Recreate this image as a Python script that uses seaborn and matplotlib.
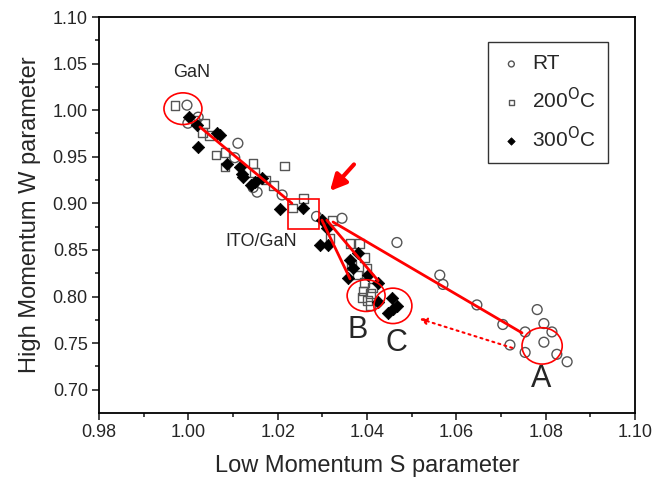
import numpy as np
import pandas as pd
import matplotlib
matplotlib.use('Agg')
import matplotlib.pyplot as plt
from matplotlib.patches import Ellipse, Rectangle
import seaborn as sns

# S and W parameters
rt_s = [0.9997, 1.0022, 0.9999, 1.0111, 1.0104, 1.0145, 1.0154, 1.0210, 1.0287,
        1.0344, 1.0467, 1.0563, 1.0570, 1.0646, 1.0704, 1.0720, 1.0754, 1.0781,
        1.0796, 1.0814, 1.0796, 1.0754, 1.0825, 1.0848]
rt_w = [1.0054, 0.9925, 0.9860, 0.9645, 0.9490, 0.9170, 0.9120, 0.9090, 0.8860,
        0.8840, 0.8580, 0.8230, 0.8130, 0.7910, 0.7700, 0.7480, 0.7620, 0.7860,
        0.7710, 0.7620, 0.7510, 0.7400, 0.7380, 0.7300]

s200_s = [0.9970, 1.0037, 1.0015, 1.0031, 1.0048, 1.0062, 1.0082, 1.0082, 1.0145,
          1.0149, 1.0172, 1.0190, 1.0216, 1.0234, 1.0257, 1.0322, 1.0317, 1.0362,
          1.0384, 1.0395, 1.0366, 1.0400, 1.0378, 1.0395, 1.0413, 1.0391, 1.0407,
          1.0389, 1.0402, 1.0407]
s200_w = [1.0054, 0.9860, 0.9890, 0.9760, 0.9730, 0.9520, 0.9550, 0.9390, 0.9430,
          0.9330, 0.9250, 0.9190, 0.9400, 0.8950, 0.9050, 0.8820, 0.8620, 0.8570,
          0.8570, 0.8420, 0.8330, 0.8300, 0.8230, 0.8150, 0.8100, 0.8060, 0.8030,
          0.7990, 0.7960, 0.7900]

s300_s = [1.0001, 1.0019, 1.0064, 1.0071, 1.0022, 1.0087, 1.0116, 1.0120, 1.0122,
          1.0149, 1.0165, 1.0140, 1.0205, 1.0257, 1.0299, 1.0310, 1.0295, 1.0313,
          1.0380, 1.0362, 1.0369, 1.0357, 1.0402, 1.0425, 1.0425, 1.0456, 1.0467,
          1.0458, 1.0447]
s300_w = [0.9925, 0.9840, 0.9760, 0.9730, 0.9610, 0.9420, 0.9390, 0.9320, 0.9280,
          0.9230, 0.9270, 0.9200, 0.8940, 0.8950, 0.8820, 0.8740, 0.8550, 0.8550,
          0.8470, 0.8390, 0.8310, 0.8200, 0.8230, 0.8150, 0.7940, 0.7980, 0.7900,
          0.7870, 0.7820]

# red guide lines (start s, start w, end s, end w)
guide_lines = [(1.0026, 0.982, 1.0232, 0.900),
               (1.0299, 0.882, 1.0362, 0.819),
               (1.0310, 0.882, 1.0425, 0.817),
               (1.0324, 0.880, 1.0747, 0.761)]
# circled regions (centre s, centre w, width, height)
rings = [(0.9988, 1.0016, 0.0085, 0.034),
         (1.0398, 0.8010, 0.0085, 0.034),
         (1.0458, 0.7900, 0.0085, 0.038),
         (1.0792, 0.7470, 0.0090, 0.039)]
labels = [('GaN', 1.0008, 1.0405, 13), ('ITO/GaN', 1.0163, 0.8590, 13),
          ('B', 1.0378, 0.7640, 22), ('C', 1.0467, 0.7500, 22), ('A', 1.0789, 0.7120, 22)]

df = pd.concat([
    pd.DataFrame({'S': rt_s, 'W': rt_w, 'T': 'RT'}),
    pd.DataFrame({'S': s200_s, 'W': s200_w, 'T': '200'}),
    pd.DataFrame({'S': s300_s, 'W': s300_w, 'T': '300'}),
])

sns.set_style('ticks')
plt.rcParams['font.family'] = ['Liberation Sans', 'DejaVu Sans']

fig = plt.figure(figsize=(6.55, 4.86), dpi=100)
ax = fig.add_axes([0.1511, 0.1502, 0.8184, 0.8148])

sns.scatterplot(data=df[df['T'] == 'RT'], x='S', y='W', marker='o', s=50,
                facecolor='none', edgecolor='#555555', linewidth=1.0, label='RT', ax=ax)
sns.scatterplot(data=df[df['T'] == '200'], x='S', y='W', marker='s', s=40,
                facecolor='none', edgecolor='#555555', linewidth=1.0,
                label='200$^{\\mathrm{O}}$C', ax=ax)
sns.scatterplot(data=df[df['T'] == '300'], x='S', y='W', marker='D', s=40,
                color='black', edgecolor='black', linewidth=0.5,
                label='300$^{\\mathrm{O}}$C', ax=ax)

# red annotations
for x0, y0, x1, y1 in guide_lines:
    ax.plot([x0, x1], [y0, y1], color='red', lw=2)
for cx, cy, w, h in rings:
    ax.add_patch(Ellipse((cx, cy), w, h, fill=False, ec='red', lw=1.2))
ax.add_patch(Rectangle((1.0223, 0.872), 0.0069, 0.033, fill=False, ec='red', lw=1.2))
ax.annotate('', xy=(1.0313, 0.911), xytext=(1.0375, 0.944),
            arrowprops=dict(arrowstyle='-|>', color='red', lw=3, mutation_scale=24))
ax.annotate('', xy=(1.0512, 0.777), xytext=(1.0731, 0.744),
            arrowprops=dict(arrowstyle='-|>', color='red', lw=1.5, ls=(0, (1, 2)),
                            mutation_scale=10))
for txt, x, y, fs in labels:
    ax.text(x, y, txt, fontsize=fs, ha='center', va='center')

ax.set_xlim(0.98, 1.10)
ax.set_ylim(0.675, 1.10)
ax.set_xticks(np.arange(0.98, 1.1001, 0.02))
ax.set_yticks(np.arange(0.70, 1.1001, 0.05))
ax.set_xticks(np.arange(0.99, 1.1, 0.02), minor=True)
ax.set_yticks(np.arange(0.725, 1.1, 0.05), minor=True)
ax.tick_params(which='major', direction='out', length=5, width=1.2, labelsize=13, pad=3)
ax.tick_params(which='minor', direction='out', length=3, width=1.2)
for sp in ax.spines.values():
    sp.set_linewidth(1.3)
    sp.set_color('black')
ax.set_xlabel('Low Momentum S parameter', fontsize=17, labelpad=10)
ax.set_ylabel('High Momentum W parameter', fontsize=17, labelpad=8)

leg = ax.legend(loc='upper right', bbox_to_anchor=(0.9496, 0.937), borderaxespad=0,
                fontsize=15, frameon=True, fancybox=False, edgecolor='black',
                markerscale=0.6, labelspacing=0.65, handletextpad=0.5,
                borderpad=0.6, handlelength=1.0)
leg.get_frame().set_linewidth(1.0)

fig.savefig('out.png', dpi=100)
